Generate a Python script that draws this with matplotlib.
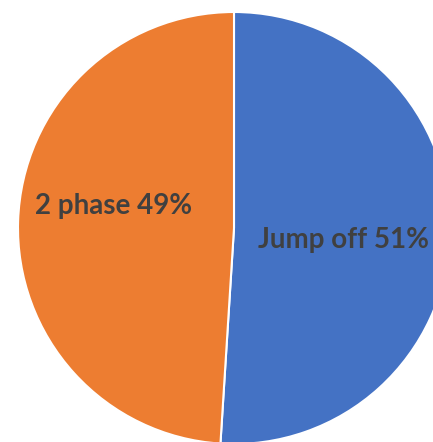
import matplotlib
matplotlib.use('agg')
import matplotlib.pyplot as plt

# data
categories = ['Jump off', '2 phase']
shares = [51, 49]
colors = ['#4472C4', '#ED7D31']

W, H = 433, 442
fig = plt.figure(figsize=(W / 100, H / 100), dpi=100)
ax = fig.add_axes([0, 0, 1, 1])

cx, cy, r = 234, H - 228, 216
ax.pie(shares, colors=colors, startangle=90, counterclock=False,
       center=(cx, cy), radius=r, frame=True,
       wedgeprops=dict(edgecolor='white', linewidth=1.5))
ax.set_xlim(0, W)
ax.set_ylim(0, H)
ax.set_aspect('equal')
ax.axis('off')

# label positions (pixels from top-left)
label_pos = [(344, 240), (114, 206)]
for name, pct, (x, y) in zip(categories, shares, label_pos):
    ax.text(x, H - y, '{} {}%'.format(name, pct), ha='center', va='center',
            fontsize=20, fontweight='bold', color='#404040', family='Lato')

fig.savefig('out.png', dpi=100)
